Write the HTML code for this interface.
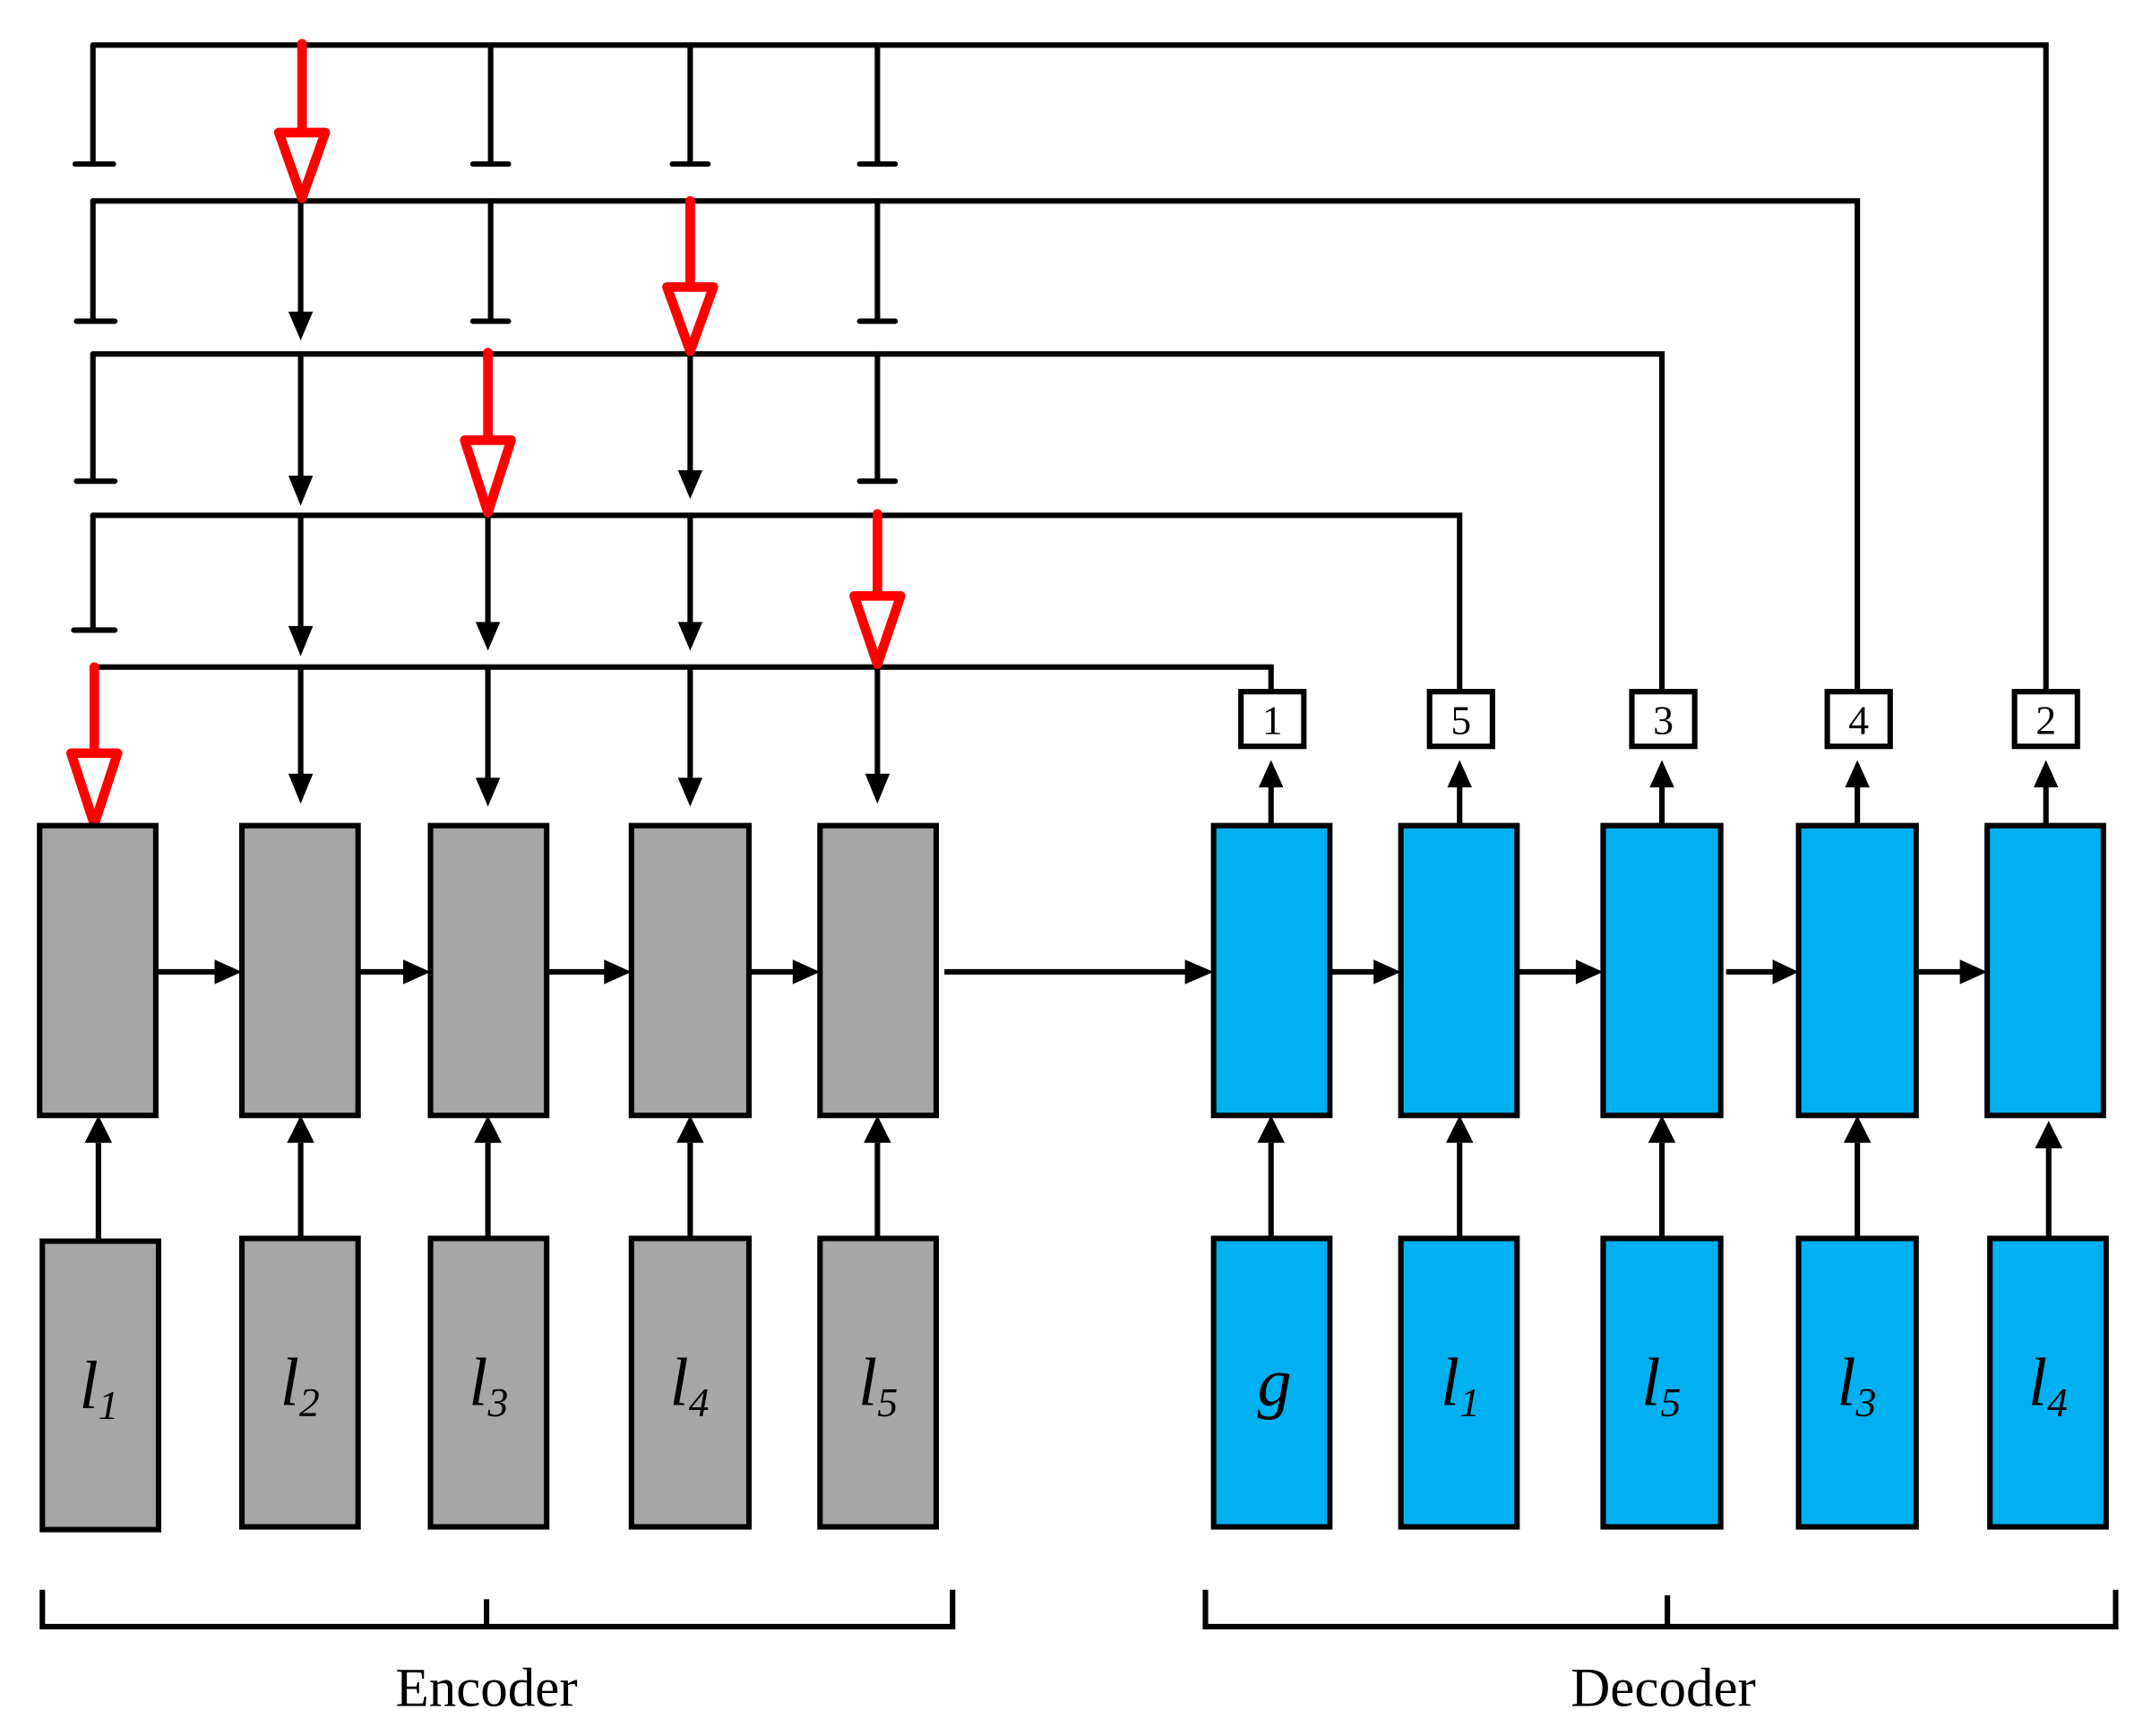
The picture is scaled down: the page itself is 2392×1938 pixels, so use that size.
<!DOCTYPE html>
<html><head><meta charset="utf-8"><style>html,body{margin:0;padding:0;background:#fff}svg{display:block}</style></head>
<body>
<svg width="2392" height="1938" viewBox="0 0 1568 1270" preserveAspectRatio="none" xmlns="http://www.w3.org/2000/svg">
<defs>
<marker id="ah" viewBox="0 0 10 10" refX="10" refY="5" markerWidth="6" markerHeight="6" markerUnits="userSpaceOnUse" orient="auto" overflow="visible">
</marker>
</defs>
<g stroke="#000" stroke-width="4" fill="none" stroke-linecap="round">
<!-- horizontal lines -->
<path d="M68 33H1497V505"/>
<path d="M68 147H1359V505"/>
<path d="M68 259H1216V505"/>
<path d="M68 377H1068V505"/>
<path d="M68 488H930V505"/>
<!-- T terminators -->
<path d="M68 33V120M55 120H83"/>
<path d="M359 33V120M346 120H372"/>
<path d="M505 33V120M492 120H518"/>
<path d="M642 33V120M629 120H655"/>
<path d="M68 147V235M56 235H84"/>
<path d="M359 147V235M346 235H372"/>
<path d="M642 147V235M629 235H655"/>
<path d="M68 259V352M56 352H84"/>
<path d="M642 259V352M629 352H655"/>
<path d="M68 377V461M54 461H84"/>
<!-- black arrow shafts -->
<path d="M220 147V232M220 259V352M505 259V348M220 377V462M357 377V458M505 377V458M220 488V570M357 488V572M505 488V572M642 488V570"/>
</g>
<g fill="#000">
<polygon points="211,228 229,228 220,249"/>
<polygon points="211,348 229,348 220,370"/>
<polygon points="496,344 514,344 505,365"/>
<polygon points="211,458 229,458 220,480"/>
<polygon points="348,455 366,455 357,476"/>
<polygon points="496,455 514,455 505,476"/>
<polygon points="211,566 229,566 220,588"/>
<polygon points="348,569 366,569 357,590"/>
<polygon points="496,569 514,569 505,590"/>
<polygon points="633,566 651,566 642,588"/>
</g>
<!-- red arrows -->
<g stroke="#ff0000" stroke-width="7" fill="#fff" stroke-linejoin="round" stroke-linecap="round">
<path d="M221 32V97"/><polygon points="204,97 238,97 221,145"/>
<path d="M505 147V210"/><polygon points="488,210 522,210 505,257"/>
<path d="M357 258V322"/><polygon points="340,322 374,322 357,375"/>
<path d="M642 376V436"/><polygon points="625,436 659,436 642,486"/>
<path d="M69 488V551"/><polygon points="52,551 86,551 69,603"/>
</g>
<!-- boxes -->
<g stroke="#000" stroke-width="4">
<g fill="#a6a6a6">
<rect x="29" y="604" width="85" height="212"/><rect x="177" y="604" width="85" height="212"/><rect x="315" y="604" width="85" height="212"/><rect x="462" y="604" width="86" height="212"/><rect x="600" y="604" width="85" height="212"/>
<rect x="31" y="908" width="85" height="211"/><rect x="177" y="906" width="85" height="211"/><rect x="315" y="906" width="85" height="211"/><rect x="462" y="906" width="86" height="211"/><rect x="600" y="906" width="85" height="211"/>
</g>
<g fill="#00b0f0">
<rect x="888" y="604" width="85" height="212"/><rect x="1025" y="604" width="85" height="212"/><rect x="1173" y="604" width="86" height="212"/><rect x="1316" y="604" width="86" height="212"/><rect x="1454" y="604" width="85" height="212"/>
<rect x="888" y="906" width="85" height="211"/><rect x="1025" y="906" width="85" height="211"/><rect x="1173" y="906" width="86" height="211"/><rect x="1316" y="906" width="86" height="211"/><rect x="1456" y="906" width="85" height="211"/>
</g>
<g fill="#fff">
<rect x="908" y="506" width="46" height="40"/><rect x="1046" y="506" width="46" height="40"/><rect x="1194" y="506" width="46" height="40"/><rect x="1337" y="506" width="46" height="40"/><rect x="1474" y="506" width="46" height="40"/>
</g>
</g>
<!-- connectors -->
<g stroke="#000" stroke-width="4" fill="none">
<path d="M72 906V836M220 906V836M357 906V836M505 906V836M642 906V836M930 906V836M1068 906V836M1216 906V836M1359 906V836M1499 906V840"/>
<path d="M930 604V575M1068 604V575M1216 604V575M1359 604V575M1497 604V575"/>
<path d="M114 711H160M262 711H298M400 711H445M548 711H583M691 711H870M973 711H1008M1110 711H1156M1263 711H1300M1402 711H1437"/>
<path d="M31 1163V1190H697V1163M356 1170V1190"/>
<path d="M882 1163V1190H1548V1163M1220 1167V1190"/>
</g>
<g fill="#000">
<polygon points="62,836 82,836 72,816"/><polygon points="210,836 230,836 220,816"/><polygon points="347,836 367,836 357,816"/><polygon points="495,836 515,836 505,816"/><polygon points="632,836 652,836 642,816"/>
<polygon points="920,836 940,836 930,816"/><polygon points="1058,836 1078,836 1068,816"/><polygon points="1206,836 1226,836 1216,816"/><polygon points="1349,836 1369,836 1359,816"/><polygon points="1489,840 1509,840 1499,820"/>
<polygon points="921,576 939,576 930,556"/><polygon points="1059,576 1077,576 1068,556"/><polygon points="1207,576 1225,576 1216,556"/><polygon points="1350,576 1368,576 1359,556"/><polygon points="1488,576 1506,576 1497,556"/>
<polygon points="157,702 157,720 177,711"/><polygon points="295,702 295,720 315,711"/><polygon points="442,702 442,720 462,711"/><polygon points="580,702 580,720 600,711"/><polygon points="867,702 867,720 888,711"/>
<polygon points="1005,702 1005,720 1025,711"/><polygon points="1153,702 1153,720 1173,711"/><polygon points="1297,702 1297,720 1316,711"/><polygon points="1434,702 1434,720 1454,711"/>
</g>
<g font-family="Liberation Serif, serif" font-size="30" text-anchor="middle" fill="#000">
<text x="931" y="537">1</text><text x="1069" y="537">5</text><text x="1217" y="537">3</text><text x="1360" y="537">4</text><text x="1497" y="537">2</text>
</g>
<g font-family="Liberation Serif, serif" font-size="40" text-anchor="middle" fill="#000">
<text x="356" y="1248">Encoder</text><text x="1217" y="1248">Decoder</text>
</g>
<g font-family="Liberation Serif, serif" font-size="50" font-style="italic" fill="#000">
<text x="58" y="1030">l<tspan font-size="30" dy="8">1</tspan></text>
<text x="205" y="1028">l<tspan font-size="30" dy="8">2</tspan></text>
<text x="343" y="1028">l<tspan font-size="30" dy="8">3</tspan></text>
<text x="490" y="1028">l<tspan font-size="30" dy="8">4</tspan></text>
<text x="628" y="1028">l<tspan font-size="30" dy="8">5</tspan></text>
<text x="920" y="1028">g</text>
<text x="1054" y="1028">l<tspan font-size="30" dy="8">1</tspan></text>
<text x="1201" y="1028">l<tspan font-size="30" dy="8">5</tspan></text>
<text x="1344" y="1028">l<tspan font-size="30" dy="8">3</tspan></text>
<text x="1484" y="1028">l<tspan font-size="30" dy="8">4</tspan></text>
</g>
</svg>
</body></html>
